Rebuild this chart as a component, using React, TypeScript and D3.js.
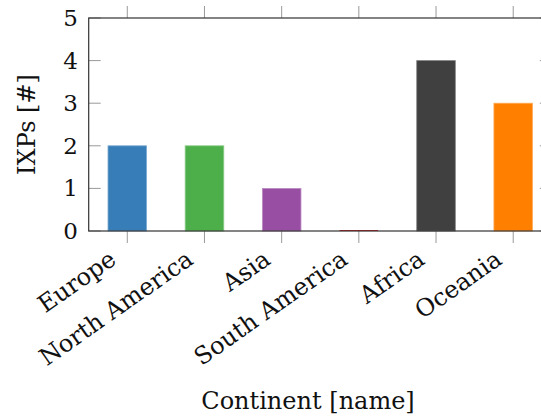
import React from "react";
import * as d3 from "d3";

const categories = ["Europe", "North America", "Asia", "South America", "Africa", "Oceania"];
const values = [2, 2, 1, 0, 4, 3];
const colors = ["#377eb8", "#4daf4a", "#984ea3", "#e41a1c", "#404040", "#ff7f00"];
const yTicks = [0, 1, 2, 3, 4, 5];
const yTitle = "IXPs [#]";
const xTitle = "Continent [name]";

const W = 541, H = 418;
const left = 88.7, right = 551.8, top = 18, bottom = 231;
const FONT = "'DejaVu Serif', serif";

export default function App() {
  const x = d3.scaleBand().domain(categories).range([left, right]).paddingInner(0.5).paddingOuter(0.25);
  const y = d3.scaleLinear().domain([0, 5]).range([bottom, top]);
  const cx = (c: string) => (x(c) as number) + x.bandwidth() / 2;
  return (
    <svg width={W} height={H} style={{ position: "absolute", left: 0, top: 0 }} fontFamily={FONT}>
      {categories.map((c, i) => values[i] > 0 ? (
        <rect key={c} x={x(c)} y={y(values[i])} width={x.bandwidth()} height={y(0) - y(values[i])}
          fill={colors[i]} stroke={d3.interpolateRgb(colors[i], "#fff")(0.35)} strokeWidth={0.8} />
      ) : (
        <line key={c} x1={x(c)} x2={(x(c) as number) + x.bandwidth()} y1={y(0) - 0.5} y2={y(0) - 0.5} stroke={colors[i]} strokeWidth={1.2} />
      ))}
      {categories.map((c) => (
        <g key={c} stroke="#999" strokeWidth={1}>
          <line x1={cx(c)} x2={cx(c)} y1={bottom} y2={bottom + 12} />
          <line x1={cx(c)} x2={cx(c)} y1={top} y2={top - 12} />
        </g>
      ))}
      {yTicks.map((t) => (
        <g key={t} stroke="#999" strokeWidth={1}>
          <line x1={left} x2={left + 12} y1={y(t)} y2={y(t)} />
          <line x1={right} x2={right - 12} y1={y(t)} y2={y(t)} />
        </g>
      ))}
      <rect x={left} y={top} width={right - left} height={bottom - top} fill="none" stroke="#333" strokeWidth={1.2} />
      {yTicks.map((t) => (
        <text key={t} x={78} y={y(t) + 8} textAnchor="end" fontSize={23} fill="#111">{t}</text>
      ))}
      {categories.map((c) => (
        <text key={c} transform={`translate(${cx(c) - 20},${bottom + 17}) rotate(-35)`} textAnchor="end"
          dy="0.75em" fontSize={24} fill="#111">{c}</text>
      ))}
      <text transform={`translate(35,${(top + bottom) / 2}) rotate(-90)`} textAnchor="middle" fontSize={24} fill="#111">{yTitle}</text>
      <text x={308} y={409} textAnchor="middle" fontSize={24} fill="#111">{xTitle}</text>
    </svg>
  );
}
